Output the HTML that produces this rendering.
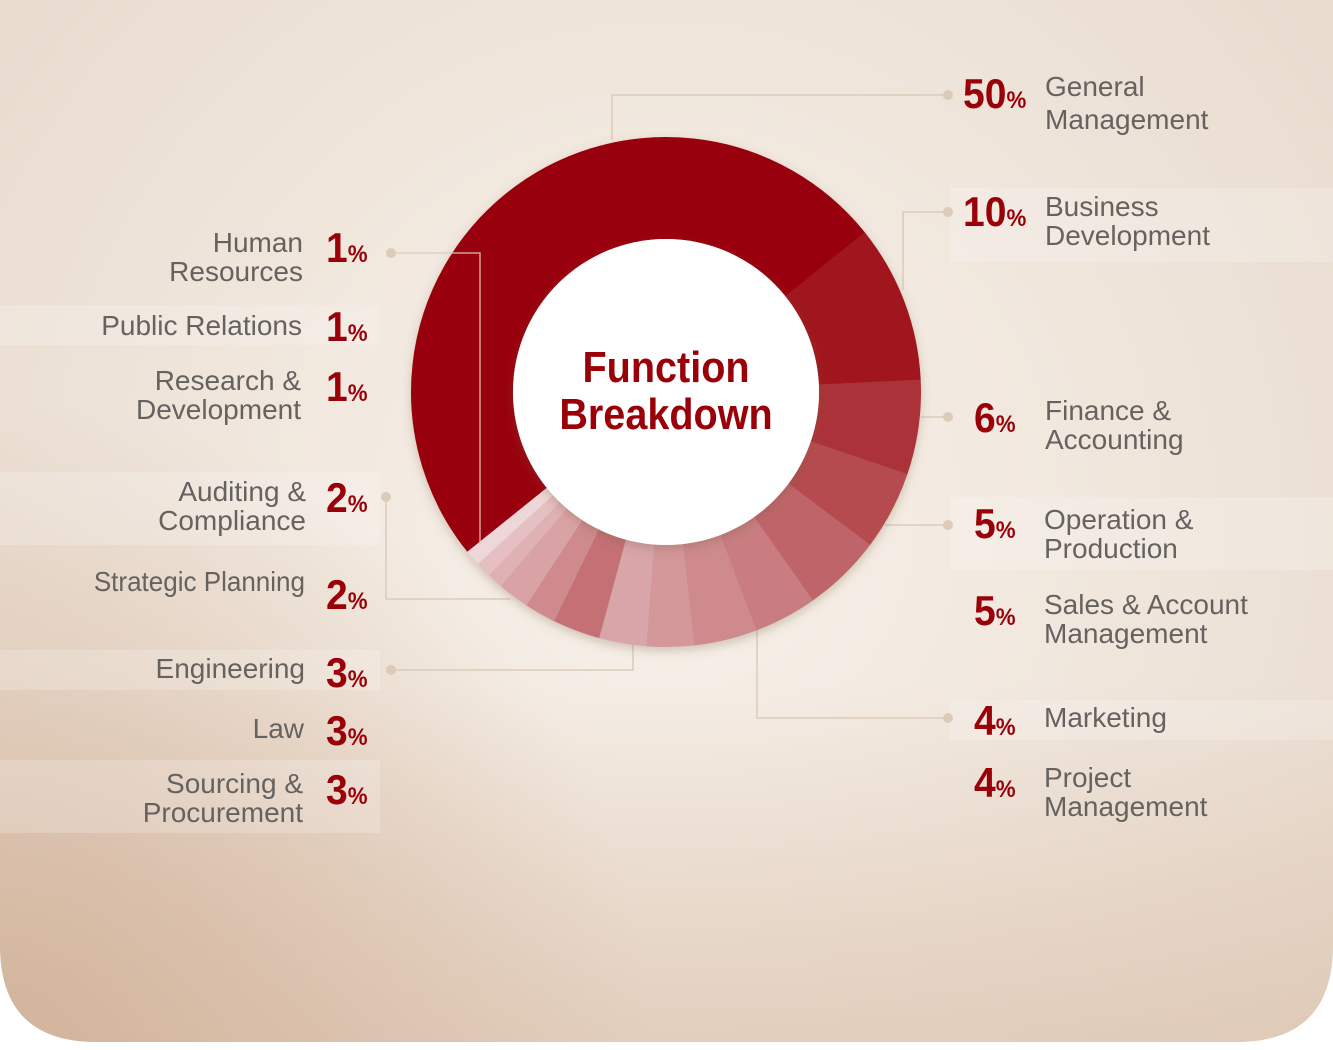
<!DOCTYPE html>
<html><head><meta charset="utf-8"><style>
html,body{margin:0;padding:0;background:#fff}
svg{display:block}
.l{font-family:"Liberation Sans",sans-serif;font-size:28px;fill:#666260}
.p{font-family:"Liberation Sans",sans-serif;font-weight:bold;fill:#990008}
</style></head><body>
<svg width="1333" height="1050" viewBox="0 0 1333 1050" xmlns="http://www.w3.org/2000/svg">
<defs>
<radialGradient id="bg" cx="666" cy="520" r="1000" gradientUnits="userSpaceOnUse">
<stop offset="0" stop-color="#f8f2eb"/><stop offset="0.6" stop-color="#ede2d7"/><stop offset="1" stop-color="#e6d6c8"/>
</radialGradient>
<linearGradient id="bot" x1="0" y1="0" x2="0" y2="1">
<stop offset="0.65" stop-color="#d2b39a" stop-opacity="0"/><stop offset="1" stop-color="#d2b39a" stop-opacity="0.45"/>
</linearGradient>
<radialGradient id="bl" cx="0" cy="1050" r="650" gradientUnits="userSpaceOnUse">
<stop offset="0" stop-color="#cfae94" stop-opacity="0.8"/><stop offset="1" stop-color="#cfae94" stop-opacity="0"/>
</radialGradient>
<filter id="sh" x="-20%" y="-20%" width="140%" height="140%"><feDropShadow dx="0" dy="4" stdDeviation="5" flood-color="#7a5a40" flood-opacity="0.3"/></filter>
<clipPath id="cp"><path d="M0 0H1333V945Q1333 1042 1236 1042H97Q0 1042 0 945Z"/></clipPath>
</defs>
<g clip-path="url(#cp)">
<rect width="1333" height="1050" fill="url(#bg)"/>
<rect width="1333" height="1050" fill="url(#bot)"/>
<rect width="1333" height="1050" fill="url(#bl)"/>
</g>
<g fill="#fff" opacity="0.2">
<rect x="950" y="188" width="383" height="74"/><rect x="950" y="497" width="383" height="73"/><rect x="950" y="700" width="383" height="40"/>
<rect x="0" y="305" width="380" height="40"/><rect x="0" y="472" width="380" height="73"/><rect x="0" y="650" width="380" height="40"/><rect x="0" y="760" width="380" height="73"/>
</g>
<g fill="none" stroke="#dccbb8" stroke-width="1.5">
<polyline points="948,95 612,95 612,140"/>
<polyline points="948,212 903,212 903,290"/>
<polyline points="948,417 921,417"/>
<polyline points="948,525 885,525"/>
<polyline points="948,718 757,718 757,630"/>
<polyline points="386,497 386,599 510,599"/>
<polyline points="391,670 633,670 633,645"/>
</g>
<g fill="#dccbb8">
<circle cx="948" cy="95" r="5"/><circle cx="948" cy="212" r="5"/><circle cx="948" cy="417" r="5"/><circle cx="948" cy="525" r="5"/><circle cx="948" cy="718" r="5"/>
<circle cx="391" cy="253" r="5"/><circle cx="386" cy="497" r="5"/><circle cx="391" cy="670" r="5"/>
</g>
<g filter="url(#sh)" fill="none" stroke-width="102">
<circle cx="666" cy="392" r="204" stroke="#990008" stroke-dasharray="641 1281.77" transform="rotate(141.2 666 392)"/>
<circle cx="666" cy="392" r="204" stroke="#a0161f" stroke-dasharray="128.5 1281.77" transform="rotate(-38.8 666 392)"/>
<circle cx="666" cy="392" r="204" stroke="#ab3137" stroke-dasharray="77.2 1281.77" transform="rotate(-2.8 666 392)"/>
<circle cx="666" cy="392" r="204" stroke="#b54b50" stroke-dasharray="64.4 1281.77" transform="rotate(18.8 666 392)"/>
<circle cx="666" cy="392" r="204" stroke="#bf656a" stroke-dasharray="64.4 1281.77" transform="rotate(36.8 666 392)"/>
<circle cx="666" cy="392" r="204" stroke="#c97d81" stroke-dasharray="51.6 1281.77" transform="rotate(54.8 666 392)"/>
<circle cx="666" cy="392" r="204" stroke="#ce8a8d" stroke-dasharray="51.6 1281.77" transform="rotate(69.2 666 392)"/>
<circle cx="666" cy="392" r="204" stroke="#d4979a" stroke-dasharray="38.8 1281.77" transform="rotate(83.6 666 392)"/>
<circle cx="666" cy="392" r="204" stroke="#d8a5a8" stroke-dasharray="38.8 1281.77" transform="rotate(94.4 666 392)"/>
<circle cx="666" cy="392" r="204" stroke="#c47075" stroke-dasharray="38.8 1281.77" transform="rotate(105.2 666 392)"/>
<circle cx="666" cy="392" r="204" stroke="#cf8a8d" stroke-dasharray="25.9 1281.77" transform="rotate(116 666 392)"/>
<circle cx="666" cy="392" r="204" stroke="#d9a3a5" stroke-dasharray="25.9 1281.77" transform="rotate(123.2 666 392)"/>
<circle cx="666" cy="392" r="204" stroke="#dfb1b3" stroke-dasharray="13 1281.77" transform="rotate(130.4 666 392)"/>
<circle cx="666" cy="392" r="204" stroke="#e5bfc1" stroke-dasharray="13 1281.77" transform="rotate(134 666 392)"/>
<circle cx="666" cy="392" r="204" stroke="#eed7d8" stroke-dasharray="12.8 1281.77" transform="rotate(137.6 666 392)"/>
</g>
<polyline points="391,253 480,253 480,545" fill="none" stroke="#dccbb8" stroke-width="1.5" opacity="0.8"/>
<circle cx="666" cy="392" r="153" fill="#fff" filter="url(#sh)"/>
<g class="p" font-size="44" text-anchor="middle">
<text transform="translate(666 382) scale(0.9 1)">Function</text>
<text transform="translate(666 429) scale(0.9 1)">Breakdown</text>
</g>
<g class="p">
<text transform="translate(963 108) scale(0.93 1)" font-size="42">50<tspan font-size="24">%</tspan></text>
<text transform="translate(963 226) scale(0.93 1)" font-size="42">10<tspan font-size="24">%</tspan></text>
<text transform="translate(974 432) scale(0.93 1)" font-size="42">6<tspan font-size="24">%</tspan></text>
<text transform="translate(974 538) scale(0.93 1)" font-size="42">5<tspan font-size="24">%</tspan></text>
<text transform="translate(974 625) scale(0.93 1)" font-size="42">5<tspan font-size="24">%</tspan></text>
<text transform="translate(974 735) scale(0.93 1)" font-size="42">4<tspan font-size="24">%</tspan></text>
<text transform="translate(974 797) scale(0.93 1)" font-size="42">4<tspan font-size="24">%</tspan></text>
</g>
<g class="l" font-size="29">
<text x="1045" y="96">General</text><text x="1045" y="129">Management</text>
<text x="1045" y="216">Business</text><text x="1045" y="245">Development</text>
<text x="1045" y="420">Finance &amp;</text><text x="1045" y="449">Accounting</text>
<text x="1044" y="529">Operation &amp;</text><text x="1044" y="558">Production</text>
<text x="1044" y="614">Sales &amp; Account</text><text x="1044" y="643">Management</text>
<text x="1044" y="727">Marketing</text>
<text x="1044" y="787">Project</text><text x="1044" y="816">Management</text>
</g>
<g class="l" text-anchor="end">
<text x="303" y="252">Human</text><text x="303" y="281">Resources</text>
<text x="302" y="335">Public Relations</text>
<text x="301" y="390">Research &amp;</text><text x="301" y="419">Development</text>
<text x="306" y="501">Auditing &amp;</text><text x="306" y="530">Compliance</text>
<text transform="translate(305 591) scale(0.93 1)">Strategic Planning</text>
<text x="305" y="678">Engineering</text>
<text x="304" y="738">Law</text>
<text x="303" y="793">Sourcing &amp;</text><text x="303" y="822">Procurement</text>
</g>
<g class="p">
<text transform="translate(326 262) scale(0.93 1)" font-size="42">1<tspan font-size="24">%</tspan></text>
<text transform="translate(326 341) scale(0.93 1)" font-size="42">1<tspan font-size="24">%</tspan></text>
<text transform="translate(326 401) scale(0.93 1)" font-size="42">1<tspan font-size="24">%</tspan></text>
<text transform="translate(326 512) scale(0.93 1)" font-size="42">2<tspan font-size="24">%</tspan></text>
<text transform="translate(326 609) scale(0.93 1)" font-size="42">2<tspan font-size="24">%</tspan></text>
<text transform="translate(326 687) scale(0.93 1)" font-size="42">3<tspan font-size="24">%</tspan></text>
<text transform="translate(326 745) scale(0.93 1)" font-size="42">3<tspan font-size="24">%</tspan></text>
<text transform="translate(326 804) scale(0.93 1)" font-size="42">3<tspan font-size="24">%</tspan></text>
</g>
</svg>
</body></html>
